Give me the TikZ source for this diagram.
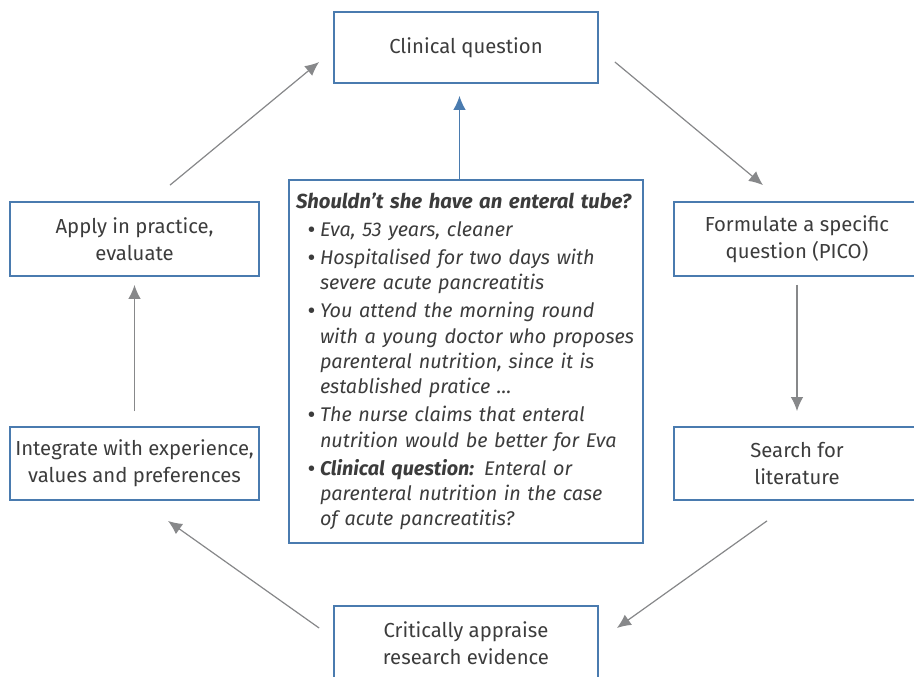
\documentclass[tikz,border=0pt]{standalone}
\usepackage{fontspec}
\setmainfont{Fira Sans}
\usepackage{enumitem}
\usetikzlibrary{arrows.meta}
\tikzset{>={Latex[length=14pt,width=12.5pt]}}
\definecolor{boxblue}{HTML}{4A7BAF}
\definecolor{arrowgray}{HTML}{87888A}
\definecolor{txtgray}{HTML}{3C3C3C}

\begin{document}
\begin{tikzpicture}[x=1pt,y=-1pt,
  stepbox/.style={draw=boxblue,line width=1.8pt,align=center,text=txtgray,font=\fontsize{20.3}{27}\selectfont},
  casebox/.style={draw=boxblue,line width=1.8pt,text width=344pt,inner xsep=5pt,inner ysep=0pt,minimum height=363pt,text=txtgray,font=\fontsize{19.8}{25.3}\selectfont\itshape},
  cyc/.style={->,draw=arrowgray,fill=arrowgray,line width=1.2pt}]
  \clip (0,0) rectangle (914,677);
  \node[stepbox,minimum width=264pt,minimum height=71pt] (clin) at (466,47.5) {Clinical question};
  \node[stepbox,minimum width=249pt,minimum height=74pt] (apply) at (134.5,239) {Apply in practice,\\evaluate};
  \node[stepbox,minimum width=246pt,minimum height=74pt] (form) at (797,239) {Formulate a specific\\question (PICO)};
  \node[stepbox,minimum width=246pt,minimum height=73pt] (search) at (797,463.5) {Search for\\literature};
  \node[stepbox,minimum width=249pt,minimum height=73pt] (integ) at (134.5,463.5) {Integrate with experience,\\values and preferences};
  \node[stepbox,minimum width=264pt,minimum height=74pt] (crit) at (466,643) {Critically appraise\\research evidence};
  \node[casebox] (case) at (466,361.5) {\raggedright
    \mbox{\hspace*{2pt}\bfseries\fontsize{20.3}{25.3}\selectfont Shouldn’t she have an enteral tube?}
    \begin{itemize}[leftmargin=26pt,labelsep=5pt,itemsep=2.7pt,topsep=2.7pt,parsep=0pt,partopsep=0pt,label=\upshape\bfseries\textbullet]
      \item Eva, 53 years, cleaner
      \item Hospitalised for two days with\newline severe acute pancreatitis
      \item You attend the morning round\newline with a young doctor who proposes\newline parenteral nutrition, since it is\newline established pratice \dots
      \item The nurse claims that enteral\newline nutrition would be better for Eva
      \item {\bfseries Clinical question:} Enteral or\newline parenteral nutrition in the case\newline of acute pancreatitis?
    \end{itemize}};
  \draw[cyc] ([shift={(35.5,-16)}]apply.north) -- ([shift={(-14,14.5)}]clin.west);
  \draw[cyc] ([shift={(16,14.5)}]clin.east) -- ([shift={(-34,-16)}]form.north);
  \draw[cyc] ([shift={(0,8)}]form.south) -- ([shift={(0,-15)}]search.north);
  \draw[cyc] ([shift={(-30,20)}]search.south) -- ([shift={(18,-15)}]crit.east);
  \draw[cyc] ([shift={(-14,-15)}]crit.west) -- ([shift={(33.5,20)}]integ.south);
  \draw[cyc] ([shift={(0,-15)}]integ.north) -- ([shift={(0,8)}]apply.south);
  \draw[->,draw=boxblue,fill=boxblue,line width=1.2pt] ([xshift=-6.5pt]case.north) -- ([shift={(-6.5,12)}]clin.south);
\end{tikzpicture}
\end{document}
